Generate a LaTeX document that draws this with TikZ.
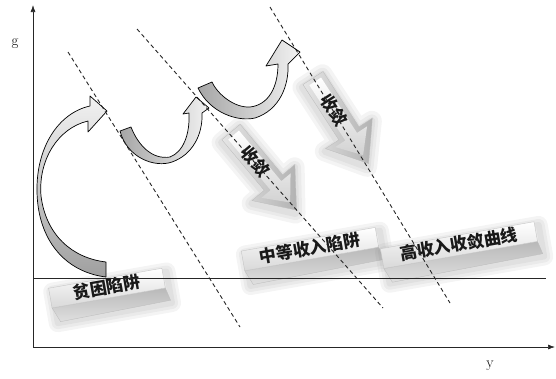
\documentclass[tikz,border=0pt]{standalone}
\usepackage{fontspec}
\newfontfamily\cjk{Noto Sans CJK SC}
\usetikzlibrary{arrows.meta}

\begin{document}
\begin{tikzpicture}[
  x=1pt, y=-1pt,
  >=Latex,
  axis/.style={-{Latex[length=7pt,width=5pt]}, line width=0.7pt, draw=black!85},
  floorline/.style={line width=0.7pt, draw=black!85},
  divider/.style={dash pattern=on 4pt off 3pt, line width=0.9pt, draw=black!85},
  ribbon/.style={draw=black, line width=0.7pt, line join=round},
  axislabel/.style={font=\fontsize{15}{15}\selectfont, inner sep=0pt},
  slabtext/.style={font=\cjk\bfseries\fontsize{17}{17}\selectfont, inner sep=0pt, text=black!90},
  convtext/.style={font=\cjk\bfseries\fontsize{17}{17}\selectfont, inner sep=0pt, text=black!90},
  slabtop/.style={top color=white, bottom color=gray!30, draw=gray!45, line width=0.4pt},
  slabfront/.style={top color=gray!55, bottom color=gray!25, draw=gray!50, line width=0.4pt},
  convbody/.style={left color=gray!20, right color=gray!60, draw=gray!50, line width=0.4pt},
  convface/.style={top color=white, bottom color=gray!35},
  glow/.style={black!60, opacity=0.07, line join=round},
  pics/slab/.style 2 args={code={
    \foreach \w in {18,12,6}
      \draw[glow, line width=\w pt] (-#1/2+3,-12) rectangle (#1/2+4,20);
    \shade[slabfront] (-#1/2,4) -- (#1/2,4) -- (#1/2+3,17) -- (-#1/2+6,19) -- cycle;
    \shade[slabtop] (-#1/2,-16) rectangle (#1/2,4);
    \node[slabtext] (-label) at (0,-7) {#2};
  }},
  convarrow/.pic={
    \foreach \w in {20,13,7}
      \draw[glow, line width=\w pt] (2,-10) -- (68,-10) -- (68,-26) -- (104,3)
        -- (68,30) -- (68,14) -- (2,14) -- cycle;
    \shade[convbody] (0,-12) -- (66,-12) -- (66,-28) -- (102,0) -- (66,28)
      -- (66,12) -- (0,12) -- cycle;
    \shade[convface] (4,-7) -- (70,-7) -- (70,-19) -- (92,0) -- (70,19)
      -- (70,7) -- (4,7) -- cycle;
    \node[convtext] (-label) at (38,0) {收敛};
  }
]
\useasboundingbox (0,0) rectangle (556,378);

% axes
\coordinate (O) at (33,347);
\coordinate (gtop) at (33,5);
\coordinate (yend) at (555,347);
\coordinate (floorL) at (33,278);
\coordinate (floorR) at (546,278);
\node[axislabel] (glabel) at (15,44) {g};
\node[axislabel] (ylabel) at (490,366) {y};

% income levels
\pic[rotate=10, transform shape] (poor) at (108,294) {slab={115}{贫困陷阱}};
\pic[rotate=10, transform shape] (middle) at (311,255) {slab={136}{中等收入陷阱}};
\pic[rotate=10, transform shape] (high) at (460,251) {slab={156}{高收入收敛曲线}};

% convergence
\pic[rotate=-50, transform shape] (convA) at (231,132) {convarrow};
\pic[rotate=-57, transform shape] (convB) at (313,78) {convarrow};

% growth jumps
\shade[ribbon, top color=gray!10, bottom color=gray!75]
  (106,277) -- (106,262)
  .. controls (72,258) and (46,235) .. (41,196)
  .. controls (38,160) and (58,128) .. (88,121)
  -- (88,132) -- (107,111) -- (90,96) -- (90,106)
  .. controls (58,113) and (36,148) .. (37,192)
  .. controls (38,240) and (65,272) .. (106,277) -- cycle;
\shade[ribbon, left color=gray!70, right color=gray!10]
  (120,131) .. controls (127,158) and (155,168) .. (172,162)
  .. controls (192,155) and (203,135) .. (202,113)
  -- (209,108) -- (196,97) -- (183,114) -- (189,113)
  .. controls (190,135) and (183,152) .. (170,157)
  .. controls (152,160) and (138,145) .. (131,127) -- cycle;
\shade[ribbon, left color=gray!70, right color=gray!10]
  (198,88) .. controls (210,113) and (238,122) .. (255,118)
  .. controls (280,110) and (289,85) .. (288,64)
  -- (300,52) -- (282,40) -- (266,66) -- (278,64)
  .. controls (278,88) and (268,105) .. (250,107)
  .. controls (235,108) and (218,95) .. (212,82) -- cycle;

% boundaries
\coordinate (divA1) at (68,52);
\coordinate (divA2) at (240,327);
\coordinate (divB1) at (137,29);
\coordinate (divB2) at (383,308);
\coordinate (divC1) at (270,7);
\coordinate (divC2) at (450,303);
\draw[divider] (divA1) -- (divA2);
\draw[divider] (divB1) -- (divB2);
\draw[divider] (divC1) -- (divC2);

\draw[floorline] (floorL) -- (floorR);
\draw[axis] (O) -- (gtop);
\draw[axis] (O) -- (yend);

\end{tikzpicture}
\end{document}
